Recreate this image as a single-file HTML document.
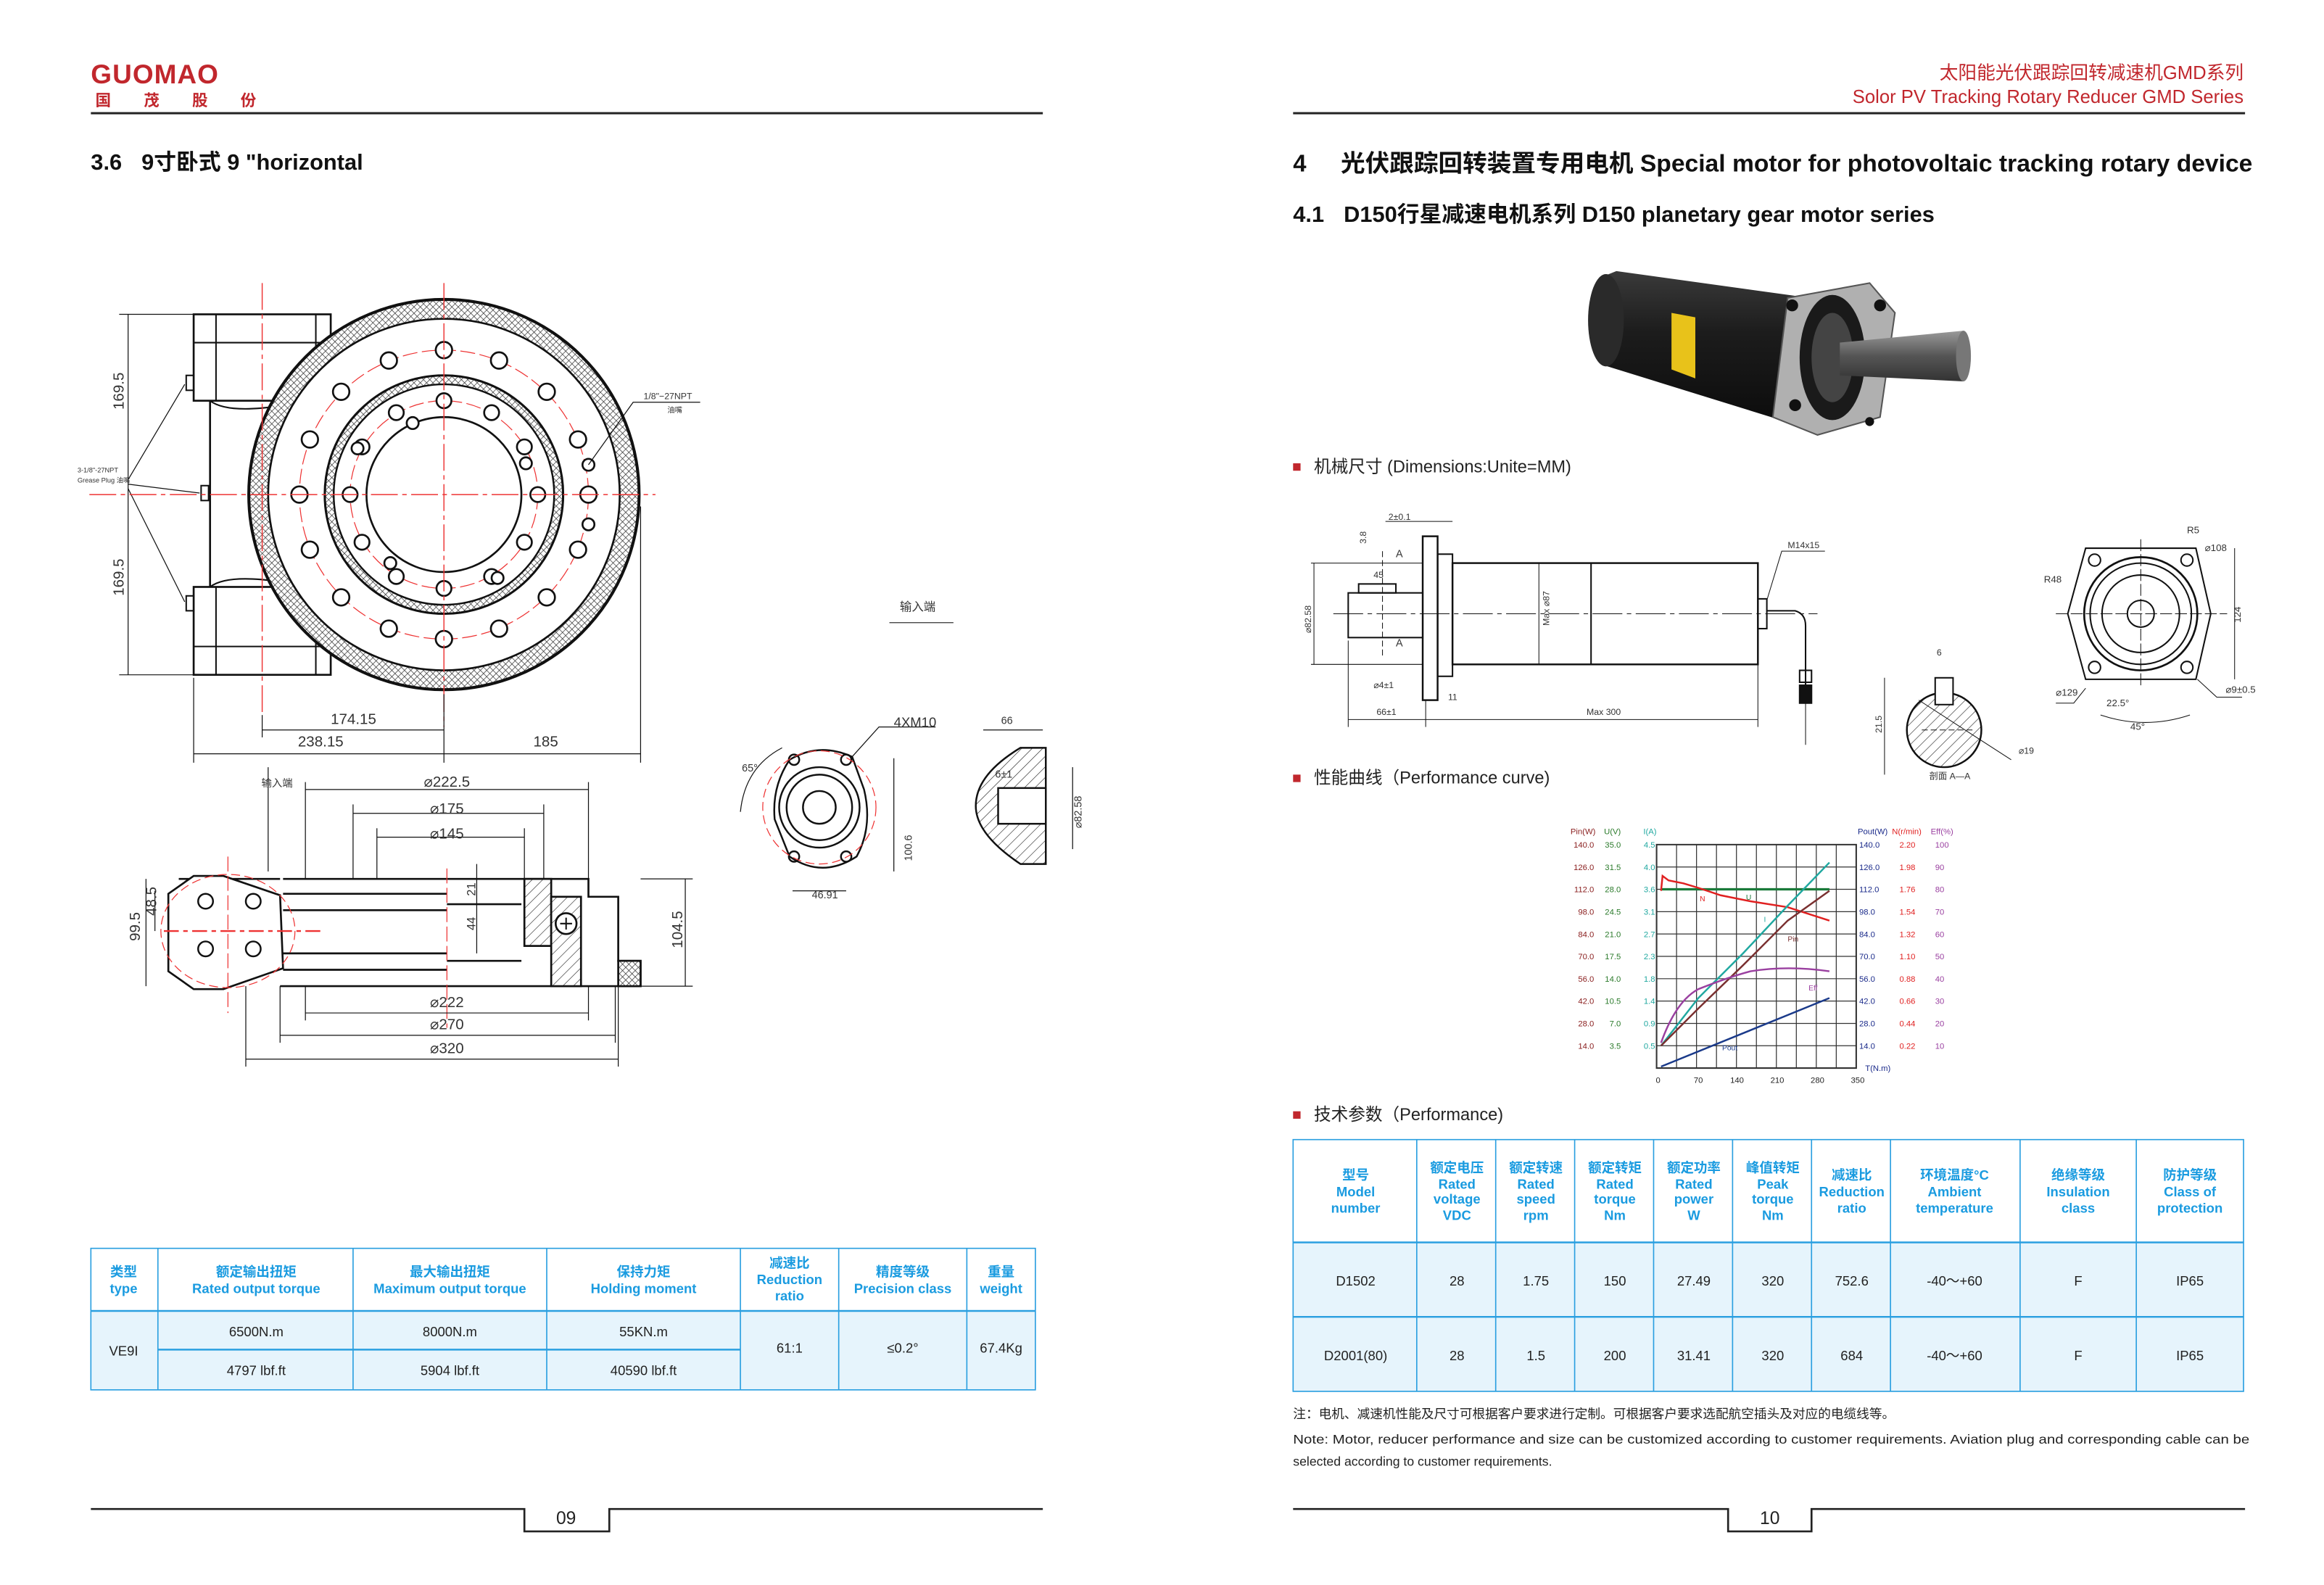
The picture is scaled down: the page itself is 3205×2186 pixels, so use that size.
<!DOCTYPE html>
<html><head><meta charset="utf-8"><style>
html,body{margin:0;padding:0;background:#fff;}
svg{display:block;}
text{font-family:"Liberation Sans","Noto Sans CJK SC",sans-serif;}
</style></head><body>
<svg width="3205" height="2186" viewBox="0 0 1560 1064" preserveAspectRatio="none" xmlns="http://www.w3.org/2000/svg">
<defs>
<pattern id="xh" width="3" height="3" patternUnits="userSpaceOnUse" patternTransform="rotate(45)"><rect width="3" height="3" fill="#fff"/><path d="M0 0H3M0 0V3" stroke="#333" stroke-width="0.7"/></pattern>
<pattern id="hh" width="5" height="5" patternUnits="userSpaceOnUse" patternTransform="rotate(45)"><rect width="5" height="5" fill="#fff"/><path d="M0 0V5" stroke="#222" stroke-width="0.6"/></pattern>
<linearGradient id="mot" x1="0" y1="0" x2="0" y2="1"><stop offset="0" stop-color="#3a3a3a"/><stop offset="0.4" stop-color="#1c1c1c"/><stop offset="1" stop-color="#0c0c0c"/></linearGradient>
<linearGradient id="sh" x1="0" y1="0" x2="0" y2="1"><stop offset="0" stop-color="#9a9a9a"/><stop offset="0.5" stop-color="#555"/><stop offset="1" stop-color="#333"/></linearGradient>
</defs>
<rect width="1560" height="1064" fill="#fff"/>

<!-- headers -->
<text x="61" y="56" font-size="18" font-weight="bold" fill="#c1272d" letter-spacing="0.5">GUOMAO</text>
<text x="64" y="71" font-size="10.5" font-weight="bold" fill="#c1272d" letter-spacing="22">国茂股份</text>
<line x1="61" y1="76" x2="700" y2="76" stroke="#222" stroke-width="1.5"/>
<text x="1506" y="53" font-size="12.5" fill="#c1272d" text-anchor="end">太阳能光伏跟踪回转减速机GMD系列</text>
<text x="1506" y="69" font-size="12.5" fill="#c1272d" text-anchor="end">Solor PV Tracking Rotary Reducer GMD Series</text>
<line x1="868" y1="76" x2="1507" y2="76" stroke="#222" stroke-width="1.5"/>

<text x="61" y="114" font-size="15" font-weight="bold" fill="#111">3.6</text>
<text x="95" y="114" font-size="15" font-weight="bold" fill="#111">9寸卧式 9 "horizontal</text>
<text x="868" y="115" font-size="16" font-weight="bold" fill="#111">4</text>
<text x="900" y="115" font-size="16" font-weight="bold" fill="#111" textLength="612" lengthAdjust="spacingAndGlyphs">光伏跟踪回转装置专用电机 Special motor for photovoltaic tracking rotary device</text>
<text x="868" y="149" font-size="15" font-weight="bold" fill="#111">4.1</text>
<text x="902" y="149" font-size="15" font-weight="bold" fill="#111">D150行星减速电机系列 D150 planetary gear motor series</text>

<!-- ===== LEFT: top view drawing ===== -->
<g fill="none" stroke="#111" stroke-width="1">
<rect x="130" y="211" width="92" height="58" stroke-width="1.3"/>
<rect x="130" y="394" width="92" height="59" stroke-width="1.3"/>
<line x1="130" y1="230" x2="222" y2="230"/><line x1="130" y1="434" x2="222" y2="434"/>
<line x1="145" y1="211" x2="145" y2="269"/><line x1="212" y1="211" x2="212" y2="269"/>
<line x1="145" y1="394" x2="145" y2="453"/><line x1="212" y1="394" x2="212" y2="453"/>
<line x1="141" y1="269" x2="141" y2="394" stroke-width="1.3"/>
<path d="M141 269 Q150 276 175 274 L195 272" /><path d="M141 394 Q150 387 175 389 L195 391"/>
<rect x="125" y="252" width="5" height="10"/><rect x="135" y="326" width="5" height="10"/><rect x="125" y="400" width="5" height="10"/>
<path d="M86 322 L124 258 M86 325 L134 331 M86 328 L124 404" stroke-width="0.6"/>
</g>
<circle cx="298" cy="332" r="131" fill="url(#xh)" stroke="#111" stroke-width="2"/>
<circle cx="298" cy="332" r="118" fill="#fff" stroke="#111" stroke-width="1.3"/>
<circle cx="298" cy="332" r="80" fill="url(#xh)" stroke="#111" stroke-width="1.5"/>
<circle cx="298" cy="332" r="74" fill="#fff" stroke="#111" stroke-width="1.2"/>
<circle cx="298" cy="332" r="52" fill="#fff" stroke="#111" stroke-width="1.3"/>
<circle cx="298" cy="332" r="97" fill="none" stroke="#e33" stroke-width="0.6" stroke-dasharray="10 3"/>
<circle cx="298" cy="332" r="63" fill="none" stroke="#e33" stroke-width="0.6" stroke-dasharray="10 3"/>
<g fill="#fff" stroke="#111" stroke-width="1.3">
<circle cx="298" cy="235" r="5.5"/><circle cx="335" cy="242" r="5.5"/><circle cx="367" cy="263" r="5.5"/><circle cx="388" cy="295" r="5.5"/>
<circle cx="395" cy="332" r="5.5"/><circle cx="388" cy="369" r="5.5"/><circle cx="367" cy="401" r="5.5"/><circle cx="335" cy="422" r="5.5"/>
<circle cx="298" cy="429" r="5.5"/><circle cx="261" cy="422" r="5.5"/><circle cx="229" cy="401" r="5.5"/><circle cx="208" cy="369" r="5.5"/>
<circle cx="201" cy="332" r="5.5"/><circle cx="208" cy="295" r="5.5"/><circle cx="229" cy="263" r="5.5"/><circle cx="261" cy="242" r="5.5"/>
<circle cx="298" cy="269" r="5"/><circle cx="330" cy="277" r="5"/><circle cx="352" cy="300" r="5"/><circle cx="361" cy="332" r="5"/>
<circle cx="352" cy="364" r="5"/><circle cx="330" cy="387" r="5"/><circle cx="298" cy="395" r="5"/><circle cx="266" cy="387" r="5"/>
<circle cx="243" cy="364" r="5"/><circle cx="235" cy="332" r="5"/><circle cx="243" cy="300" r="5"/><circle cx="266" cy="277" r="5"/>
<circle cx="277" cy="284" r="4"/><circle cx="353" cy="311" r="4"/><circle cx="395" cy="312" r="4"/>
<circle cx="395" cy="352" r="4"/><circle cx="262" cy="378" r="4"/><circle cx="334" cy="388" r="4"/><circle cx="240" cy="301" r="4"/>
</g>
<g stroke="#e33" stroke-width="0.7" fill="none">
<line x1="298" y1="190" x2="298" y2="488" stroke-dasharray="18 3 3 3"/>
<line x1="60" y1="332" x2="440" y2="332" stroke-dasharray="18 3 3 3"/>
<line x1="176" y1="190" x2="176" y2="480" stroke-dasharray="18 3 3 3"/>
</g>
<g stroke="#111" stroke-width="0.6" fill="none">
<line x1="86" y1="211" x2="86" y2="453"/><line x1="80" y1="211" x2="130" y2="211"/><line x1="80" y1="453" x2="130" y2="453"/>
<line x1="176" y1="480" x2="176" y2="495"/><line x1="298" y1="466" x2="298" y2="512"/><line x1="130" y1="455" x2="130" y2="512"/><line x1="430" y1="340" x2="430" y2="512"/>
<line x1="176" y1="490" x2="298" y2="490"/><line x1="130" y1="506" x2="430" y2="506"/>
<path d="M395 312 L425 270 L470 270"/>
</g>
<g font-size="10" fill="#333">
<text x="83" y="275" transform="rotate(-90 83 275)">169.5</text>
<text x="83" y="400" transform="rotate(-90 83 400)">169.5</text>
<text x="222" y="486">174.15</text><text x="200" y="501">238.15</text><text x="358" y="501">185</text>
<text x="432" y="268" font-size="6">1/8"−27NPT</text><text x="448" y="277" font-size="5">油嘴</text>
<text x="52" y="317" font-size="4.5">3-1/8"-27NPT</text><text x="52" y="324" font-size="4.5">Grease Plug 油嘴</text>
<text x="604" y="410" font-size="8">输入端</text>
</g>
<line x1="597" y1="418" x2="640" y2="418" stroke="#333" stroke-width="0.6"/>

<!-- side view -->
<g fill="none" stroke="#111" stroke-width="1.3">
<path d="M120 590 L188 590 M190 590 L395 590 L395 602 L415 602 L415 645 L430 645 L430 662 L188 662"/>
<path d="M113 600 L130 588 L150 588 L188 601 L190 650 L150 664 L130 664 L113 652 Z" fill="#fff"/>
<line x1="190" y1="600" x2="300" y2="600"/><line x1="190" y1="611" x2="300" y2="611"/><line x1="190" y1="640" x2="300" y2="640"/><line x1="190" y1="651" x2="300" y2="651"/>
<line x1="300" y1="607" x2="350" y2="607"/><line x1="300" y1="645" x2="350" y2="645"/>
<rect x="352" y="590" width="18" height="45" fill="url(#hh)"/>
<rect x="370" y="602" width="20" height="60" fill="url(#hh)"/>
<rect x="415" y="645" width="15" height="17" fill="url(#xh)"/>
<circle cx="380" cy="620" r="7" fill="#fff"/>
</g>
<g fill="#fff" stroke="#111" stroke-width="1.2"><circle cx="138" cy="605" r="5"/><circle cx="170" cy="605" r="5"/><circle cx="138" cy="637" r="5"/><circle cx="170" cy="637" r="5"/></g>
<path d="M376 620h8M380 616v8" stroke="#111"/>
<ellipse cx="153" cy="625" rx="45" ry="38" fill="none" stroke="#e33" stroke-width="0.6" stroke-dasharray="6 3"/>
<g stroke="#e33" stroke-width="0.6"><line x1="153" y1="575" x2="153" y2="680" stroke-dasharray="10 3"/><line x1="110" y1="625" x2="215" y2="625" stroke-width="1.2" stroke-dasharray="10 3 3 3"/><line x1="300" y1="583" x2="300" y2="690" stroke-dasharray="10 3"/></g>
<g stroke="#111" stroke-width="0.6" fill="none">
<line x1="98" y1="590" x2="98" y2="662"/><line x1="104" y1="598" x2="104" y2="625"/><line x1="460" y1="590" x2="460" y2="662"/>
<line x1="430" y1="590" x2="465" y2="590"/><line x1="430" y1="662" x2="465" y2="662"/>
<line x1="205" y1="530" x2="395" y2="530"/><line x1="237" y1="546" x2="365" y2="546"/><line x1="253" y1="562" x2="352" y2="562"/>
<line x1="205" y1="680" x2="395" y2="680"/><line x1="188" y1="695" x2="413" y2="695"/><line x1="165" y1="711" x2="415" y2="711"/>
<line x1="205" y1="525" x2="205" y2="590"/><line x1="395" y1="525" x2="395" y2="590"/><line x1="237" y1="540" x2="237" y2="590"/><line x1="365" y1="540" x2="365" y2="590"/>
<line x1="253" y1="556" x2="253" y2="590"/><line x1="352" y1="556" x2="352" y2="590"/>
<line x1="205" y1="662" x2="205" y2="685"/><line x1="395" y1="662" x2="395" y2="685"/><line x1="188" y1="662" x2="188" y2="700"/><line x1="413" y1="662" x2="413" y2="700"/><line x1="165" y1="662" x2="165" y2="716"/><line x1="415" y1="662" x2="415" y2="716"/>
<line x1="320" y1="580" x2="320" y2="640"/><line x1="180" y1="515" x2="180" y2="585"/>
</g>
<g font-size="10" fill="#333" text-anchor="middle">
<text x="300" y="528">⌀222.5</text><text x="300" y="546">⌀175</text><text x="300" y="563">⌀145</text>
<text x="300" y="676">⌀222</text><text x="300" y="691">⌀270</text><text x="300" y="707">⌀320</text>
<text x="94" y="622" transform="rotate(-90 94 622)">99.5</text><text x="105" y="605" transform="rotate(-90 105 605)">48.5</text>
<text x="458" y="624" transform="rotate(-90 458 624)">104.5</text>
<text x="319" y="597" transform="rotate(-90 319 597)" font-size="8">21</text><text x="319" y="620" transform="rotate(-90 319 620)" font-size="8">44</text>
<text x="186" y="528" font-size="7">输入端</text>
</g>

<!-- flange small view -->
<g fill="none" stroke="#111" stroke-width="1.2">
<path d="M530 510 Q550 498 572 508 L580 530 Q586 555 575 575 Q552 590 530 575 L520 550 Q518 528 530 510 Z" fill="#fff"/>
<circle cx="550" cy="542" r="27"/><circle cx="550" cy="542" r="22"/><circle cx="550" cy="542" r="11"/>
<circle cx="533" cy="510" r="3.5"/><circle cx="568" cy="510" r="3.5"/><circle cx="533" cy="575" r="3.5"/><circle cx="568" cy="575" r="3.5"/>
</g>
<circle cx="550" cy="542" r="38" fill="none" stroke="#e33" stroke-width="0.6" stroke-dasharray="6 3"/>
<g stroke="#111" stroke-width="0.6" fill="none"><path d="M572 508 L590 488 L628 488"/><line x1="600" y1="509" x2="600" y2="585"/><line x1="532" y1="598" x2="568" y2="598"/><path d="M525 502 Q500 515 497 545"/></g>
<g font-size="9" fill="#333"><text x="600" y="488">4XM10</text><text x="498" y="518" font-size="7">65°</text><text x="545" y="603" font-size="7">46.91</text><text x="612" y="578" font-size="7" transform="rotate(-90 612 578)">100.6</text></g>
<g fill="none" stroke="#111" stroke-width="1.2">
<path d="M702 502 L702 580 L685 580 Q655 560 655 541 Q655 520 685 502 Z" fill="url(#hh)"/>
<rect x="670" y="529" width="32" height="24" fill="#fff"/>
</g>
<g stroke="#111" stroke-width="0.6"><line x1="660" y1="490" x2="700" y2="490"/><line x1="720" y1="515" x2="720" y2="570"/></g>
<g font-size="7" fill="#333"><text x="672" y="486">66</text><text x="726" y="556" transform="rotate(-90 726 556)">⌀82.58</text><text x="668" y="522">6±1</text></g>

<!-- left table -->
<rect x="61" y="880" width="634" height="53" fill="#e6f4fc"/>
<g stroke="#2a9fe0" stroke-width="0.8" fill="none">
<rect x="61" y="838" width="634" height="95"/>
<line x1="61" y1="880" x2="695" y2="880" stroke-width="1.2"/><line x1="106" y1="906" x2="497" y2="906" stroke-width="1.2"/>
<line x1="106" y1="838" x2="106" y2="933"/><line x1="237" y1="838" x2="237" y2="933"/><line x1="367" y1="838" x2="367" y2="933"/><line x1="497" y1="838" x2="497" y2="933"/><line x1="563" y1="838" x2="563" y2="933"/><line x1="649" y1="838" x2="649" y2="933"/>
</g>
<g font-size="9" font-weight="bold" fill="#1a9be0" text-anchor="middle">
<text x="83" y="857">类型</text><text x="83" y="868">type</text>
<text x="172" y="857">额定输出扭矩</text><text x="172" y="868">Rated output torque</text>
<text x="302" y="857">最大输出扭矩</text><text x="302" y="868">Maximum output torque</text>
<text x="432" y="857">保持力矩</text><text x="432" y="868">Holding moment</text>
<text x="530" y="851">减速比</text><text x="530" y="862">Reduction</text><text x="530" y="873">ratio</text>
<text x="606" y="857">精度等级</text><text x="606" y="868">Precision class</text>
<text x="672" y="857">重量</text><text x="672" y="868">weight</text>
</g>
<g font-size="9" fill="#222" text-anchor="middle">
<text x="83" y="910">VE9I</text><text x="172" y="897">6500N.m</text><text x="302" y="897">8000N.m</text><text x="432" y="897">55KN.m</text>
<text x="172" y="923">4797 lbf.ft</text><text x="302" y="923">5904 lbf.ft</text><text x="432" y="923">40590 lbf.ft</text>
<text x="530" y="908">61:1</text><text x="606" y="908">≤0.2°</text><text x="672" y="908">67.4Kg</text>
</g>

<!-- footers -->
<path d="M61 1013 H352 V1028 H409 V1013 H700" fill="none" stroke="#222" stroke-width="1.3"/>
<text x="380" y="1023" font-size="12" text-anchor="middle" fill="#222">09</text>
<path d="M868 1013 H1160 V1028 H1216 V1013 H1507" fill="none" stroke="#222" stroke-width="1.3"/>
<text x="1188" y="1023" font-size="12" text-anchor="middle" fill="#222">10</text>

<!-- ===== RIGHT: motor photo ===== -->
<path d="M1075 186 Q1068 215 1076 245 L1205 285 L1215 200 L1085 182 Z" fill="url(#mot)"/>
<ellipse cx="1078" cy="215" rx="12" ry="31" fill="#2a2a2a"/>
<path d="M1122 210 L1138 213 L1138 254 L1122 248 Z" fill="#e8c21a"/>
<path d="M1200 200 L1255 190 L1272 210 L1262 280 L1220 292 L1190 280 Z" fill="#b0b0b0" stroke="#555"/>
<ellipse cx="1230" cy="240" rx="22" ry="42" fill="#1a1a1a"/>
<ellipse cx="1230" cy="240" rx="14" ry="30" fill="#444"/>
<path d="M1235 230 L1318 222 Q1324 238 1318 256 L1235 252 Z" fill="url(#sh)"/>
<ellipse cx="1318" cy="239" rx="5" ry="17" fill="#777"/>
<circle cx="1203" cy="205" r="4" fill="#111"/><circle cx="1262" cy="205" r="4" fill="#111"/><circle cx="1205" cy="272" r="4" fill="#111"/><circle cx="1255" cy="283" r="3" fill="#111"/>

<!-- section bullets -->
<rect x="868" y="311" width="5" height="5" fill="#c1272d"/><text x="882" y="317" font-size="11.5" fill="#222">机械尺寸 (Dimensions:Unite=MM)</text>
<rect x="868" y="520" width="5" height="5" fill="#c1272d"/><text x="882" y="526" font-size="11.5" fill="#222">性能曲线（Performance curve)</text>
<rect x="868" y="746" width="5" height="5" fill="#c1272d"/><text x="882" y="752" font-size="11.5" fill="#222">技术参数（Performance)</text>

<!-- motor drawing side view -->
<g fill="none" stroke="#111" stroke-width="1">
<rect x="905" y="398" width="50" height="30"/><rect x="912" y="392" width="25" height="6"/>
<rect x="955" y="360" width="10" height="110" stroke-width="1.2"/>
<rect x="965" y="372" width="10" height="82"/>
<rect x="975" y="378" width="205" height="68" stroke-width="1.2"/>
<line x1="1068" y1="378" x2="1068" y2="446"/>
<rect x="1180" y="402" width="6" height="20"/>
<path d="M1186 410 L1205 410 Q1212 412 1212 420 L1212 470"/>
<rect x="1208" y="450" width="8" height="8"/><rect x="1208" y="460" width="8" height="12" fill="#111"/>
</g>
<line x1="895" y1="412" x2="1220" y2="412" stroke="#111" stroke-width="0.5" stroke-dasharray="20 3 3 3"/>
<g stroke="#111" stroke-width="0.5" fill="none">
<line x1="882" y1="378" x2="882" y2="446"/><line x1="880" y1="378" x2="955" y2="378"/><line x1="880" y1="446" x2="955" y2="446"/>
<line x1="1033" y1="378" x2="1033" y2="446"/>
<line x1="905" y1="483" x2="1180" y2="483"/><line x1="905" y1="430" x2="905" y2="488"/><line x1="957" y1="470" x2="957" y2="488"/><line x1="1180" y1="446" x2="1180" y2="488"/>
<line x1="930" y1="350" x2="975" y2="350"/><path d="M1186 403 L1196 370 L1225 370"/>
<line x1="928" y1="370" x2="928" y2="440" stroke-dasharray="4 2"/>
<line x1="1212" y1="470" x2="1212" y2="500"/>
</g>
<g font-size="6" fill="#333">
<text x="932" y="349">2±0.1</text><text x="917" y="365" transform="rotate(-90 917 365)">3.8</text><text x="922" y="388">45</text>
<text x="880" y="425" transform="rotate(-90 880 425)">⌀82.58</text><text x="1040" y="420" transform="rotate(-90 1040 420)">Max ⌀87</text>
<text x="922" y="462">⌀4±1</text><text x="924" y="480">66±1</text><text x="972" y="470">11</text><text x="1065" y="480">Max 300</text>
<text x="1200" y="368">M14x15</text><text x="937" y="374" font-size="7">A</text><text x="937" y="434" font-size="7">A</text>
</g>
<!-- section A-A -->
<circle cx="1305" cy="490" r="25" fill="url(#hh)" stroke="#111" stroke-width="1.2"/>
<rect x="1299" y="455" width="12" height="18" fill="#fff" stroke="#111"/>
<g stroke="#111" stroke-width="0.5"><line x1="1265" y1="455" x2="1265" y2="520"/><line x1="1290" y1="490" x2="1325" y2="490" stroke-dasharray="4 2"/><line x1="1288" y1="470" x2="1350" y2="510"/></g>
<g font-size="6" fill="#333"><text x="1300" y="440">6</text><text x="1263" y="492" transform="rotate(-90 1263 492)">21.5</text><text x="1355" y="506">⌀19</text><text x="1295" y="523">剖面 A—A</text></g>
<!-- end view -->
<g fill="none" stroke="#111" stroke-width="1">
<path d="M1400 368 L1474 368 L1484 412 L1474 456 L1400 456 L1388 412 Z"/>
<circle cx="1437" cy="412" r="38" stroke-width="1.3"/><circle cx="1437" cy="412" r="34"/><circle cx="1437" cy="412" r="26"/><circle cx="1437" cy="412" r="9"/>
<circle cx="1406" cy="376" r="4"/><circle cx="1468" cy="376" r="4"/><circle cx="1406" cy="448" r="4"/><circle cx="1468" cy="448" r="4"/>
</g>
<g stroke="#111" stroke-width="0.5" fill="none"><line x1="1380" y1="412" x2="1495" y2="412" stroke-dasharray="8 2"/><line x1="1437" y1="362" x2="1437" y2="462" stroke-dasharray="8 2"/><line x1="1500" y1="368" x2="1500" y2="456"/><path d="M1400 462 L1392 472 L1380 472 M1475 456 L1488 468 L1505 468 M1410 480 Q1440 490 1470 480"/></g>
<g font-size="6.5" fill="#333"><text x="1468" y="358">R5</text><text x="1480" y="370">⌀108</text><text x="1372" y="391">R48</text><text x="1504" y="418" transform="rotate(-90 1504 418)">124</text><text x="1380" y="467">⌀129</text><text x="1494" y="465">⌀9±0.5</text><text x="1414" y="474">22.5°</text><text x="1430" y="490">45°</text></g>

<!-- chart -->
<g stroke="#333" stroke-width="0.6">
<path d="M1112 567 V717 H1246 V567 Z" fill="none" stroke-width="1"/>
<path d="M1125.4 567V717M1138.8 567V717M1152.2 567V717M1165.6 567V717M1179 567V717M1192.4 567V717M1205.8 567V717M1219.2 567V717M1232.6 567V717"/>
<path d="M1112 582H1246M1112 597H1246M1112 612H1246M1112 627H1246M1112 642H1246M1112 657H1246M1112 672H1246M1112 687H1246M1112 702H1246"/>
</g>
<g fill="none" stroke-width="1.2">
<path d="M1115 597 H1228" stroke="#1a7a3a" stroke-width="1.6"/>
<path d="M1115 598 L1116 588 L1120 591 L1130 593 L1140 596 L1155 601 L1175 605 L1200 609 L1228 618" stroke="#e02020"/>
<path d="M1115 702 L1140 670 L1170 640 L1200 608 L1228 579" stroke="#20a8a0"/>
<path d="M1115 702 L1140 677 L1170 648 L1200 618 L1228 598" stroke="#7a3030"/>
<path d="M1115 700 Q1125 672 1140 664 Q1160 656 1175 652 Q1200 648 1228 652" stroke="#9a40a0"/>
<path d="M1115 716 L1228 670" stroke="#1a3a8a"/>
</g>
<g font-size="5" fill="#333"><text x="1141" y="605" fill="#e02020">N</text><text x="1172" y="604" fill="#1a7a3a">U</text><text x="1184" y="619" fill="#20a8a0">I</text><text x="1200" y="632" fill="#7a3030">Pin</text><text x="1214" y="665" fill="#9a40a0">Eff</text><text x="1156" y="705" fill="#1a3a8a">Pout</text></g>
<g font-size="5.5" text-anchor="end">
<text x="1071" y="560" fill="#8b2020">Pin(W)</text><text x="1088" y="560" fill="#2a7a2a">U(V)</text><text x="1112" y="560" fill="#20a8a0">I(A)</text>
<g fill="#8b2020"><text x="1070" y="569">140.0</text><text x="1070" y="584">126.0</text><text x="1070" y="599">112.0</text><text x="1070" y="614">98.0</text><text x="1070" y="629">84.0</text><text x="1070" y="644">70.0</text><text x="1070" y="659">56.0</text><text x="1070" y="674">42.0</text><text x="1070" y="689">28.0</text><text x="1070" y="704">14.0</text></g>
<g fill="#2a7a2a"><text x="1088" y="569">35.0</text><text x="1088" y="584">31.5</text><text x="1088" y="599">28.0</text><text x="1088" y="614">24.5</text><text x="1088" y="629">21.0</text><text x="1088" y="644">17.5</text><text x="1088" y="659">14.0</text><text x="1088" y="674">10.5</text><text x="1088" y="689">7.0</text><text x="1088" y="704">3.5</text></g>
<g fill="#20a8a0"><text x="1111" y="569">4.5</text><text x="1111" y="584">4.0</text><text x="1111" y="599">3.6</text><text x="1111" y="614">3.1</text><text x="1111" y="629">2.7</text><text x="1111" y="644">2.3</text><text x="1111" y="659">1.8</text><text x="1111" y="674">1.4</text><text x="1111" y="689">0.9</text><text x="1111" y="704">0.5</text></g>
</g>
<g font-size="5.5">
<text x="1247" y="560" fill="#1a2a8a">Pout(W)</text><text x="1270" y="560" fill="#e02020">N(r/min)</text><text x="1296" y="560" fill="#9a40a0">Eff(%)</text>
<g fill="#1a2a8a"><text x="1248" y="569">140.0</text><text x="1248" y="584">126.0</text><text x="1248" y="599">112.0</text><text x="1248" y="614">98.0</text><text x="1248" y="629">84.0</text><text x="1248" y="644">70.0</text><text x="1248" y="659">56.0</text><text x="1248" y="674">42.0</text><text x="1248" y="689">28.0</text><text x="1248" y="704">14.0</text><text x="1252" y="719">T(N.m)</text></g>
<g fill="#e02020"><text x="1275" y="569">2.20</text><text x="1275" y="584">1.98</text><text x="1275" y="599">1.76</text><text x="1275" y="614">1.54</text><text x="1275" y="629">1.32</text><text x="1275" y="644">1.10</text><text x="1275" y="659">0.88</text><text x="1275" y="674">0.66</text><text x="1275" y="689">0.44</text><text x="1275" y="704">0.22</text></g>
<g fill="#9a40a0"><text x="1299" y="569">100</text><text x="1299" y="584">90</text><text x="1299" y="599">80</text><text x="1299" y="614">70</text><text x="1299" y="629">60</text><text x="1299" y="644">50</text><text x="1299" y="659">40</text><text x="1299" y="674">30</text><text x="1299" y="689">20</text><text x="1299" y="704">10</text></g>
<g fill="#222" text-anchor="middle"><text x="1113" y="727">0</text><text x="1140" y="727">70</text><text x="1166" y="727">140</text><text x="1193" y="727">210</text><text x="1220" y="727">280</text><text x="1247" y="727">350</text></g>
</g>

<!-- right table -->
<rect x="868" y="834" width="638" height="100" fill="#e6f4fc"/>
<g stroke="#2a9fe0" stroke-width="0.8" fill="none">
<rect x="868" y="765" width="638" height="169"/>
<line x1="868" y1="834" x2="1506" y2="834" stroke-width="1.2"/><line x1="868" y1="884" x2="1506" y2="884" stroke-width="1.2"/>
<path d="M951 765V934M1004 765V934M1057 765V934M1110 765V934M1163 765V934M1216 765V934M1269 765V934M1356 765V934M1434 765V934"/>
</g>
<g font-size="9" font-weight="bold" fill="#1a9be0" text-anchor="middle">
<text x="910" y="792">型号</text><text x="910" y="803">Model</text><text x="910" y="814">number</text>
<text x="978" y="787">额定电压</text><text x="978" y="798">Rated</text><text x="978" y="808">voltage</text><text x="978" y="819">VDC</text>
<text x="1031" y="787">额定转速</text><text x="1031" y="798">Rated</text><text x="1031" y="808">speed</text><text x="1031" y="819">rpm</text>
<text x="1084" y="787">额定转矩</text><text x="1084" y="798">Rated</text><text x="1084" y="808">torque</text><text x="1084" y="819">Nm</text>
<text x="1137" y="787">额定功率</text><text x="1137" y="798">Rated</text><text x="1137" y="808">power</text><text x="1137" y="819">W</text>
<text x="1190" y="787">峰值转矩</text><text x="1190" y="798">Peak</text><text x="1190" y="808">torque</text><text x="1190" y="819">Nm</text>
<text x="1243" y="792">减速比</text><text x="1243" y="803">Reduction</text><text x="1243" y="814">ratio</text>
<text x="1312" y="792">环境温度°C</text><text x="1312" y="803">Ambient</text><text x="1312" y="814">temperature</text>
<text x="1395" y="792">绝缘等级</text><text x="1395" y="803">Insulation</text><text x="1395" y="814">class</text>
<text x="1470" y="792">防护等级</text><text x="1470" y="803">Class of</text><text x="1470" y="814">protection</text>
</g>
<g font-size="9" fill="#222" text-anchor="middle">
<text x="910" y="863">D1502</text><text x="978" y="863">28</text><text x="1031" y="863">1.75</text><text x="1084" y="863">150</text><text x="1137" y="863">27.49</text><text x="1190" y="863">320</text><text x="1243" y="863">752.6</text><text x="1312" y="863">-40～+60</text><text x="1395" y="863">F</text><text x="1470" y="863">IP65</text>
<text x="910" y="913">D2001(80)</text><text x="978" y="913">28</text><text x="1031" y="913">1.5</text><text x="1084" y="913">200</text><text x="1137" y="913">31.41</text><text x="1190" y="913">320</text><text x="1243" y="913">684</text><text x="1312" y="913">-40～+60</text><text x="1395" y="913">F</text><text x="1470" y="913">IP65</text>
</g>
<g font-size="8.6" fill="#222">
<text x="868" y="952">注：电机、减速机性能及尺寸可根据客户要求进行定制。可根据客户要求选配航空插头及对应的电缆线等。</text>
<text x="868" y="969" textLength="642" lengthAdjust="spacingAndGlyphs">Note: Motor, reducer performance and size can be customized according to customer requirements. Aviation plug and corresponding cable can be</text>
<text x="868" y="984">selected according to customer requirements.</text>
</g>
</svg>
</body></html>
